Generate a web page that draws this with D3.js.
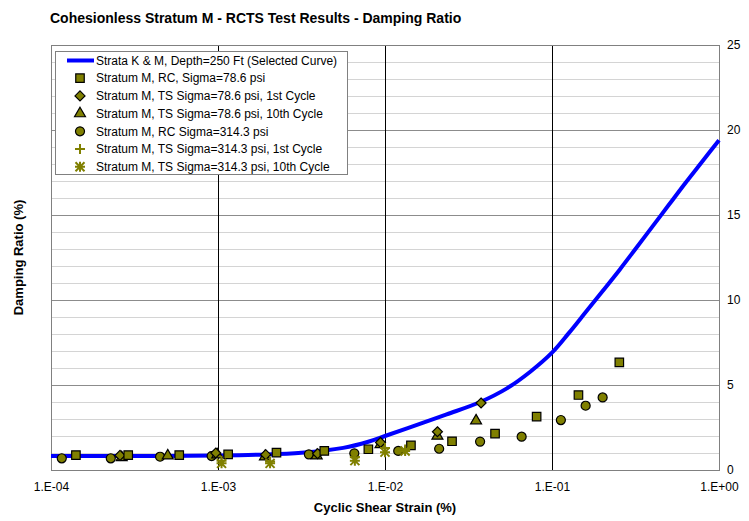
<!DOCTYPE html>
<html><head><meta charset="utf-8">
<script src="https://cdn.jsdelivr.net/npm/d3@7"></script>
<style>body{margin:0;background:#fff}svg{font-family:"Liberation Sans",Arial,sans-serif;display:block}</style>
</head><body><svg id="c" width="749" height="521"></svg>
<script>
const titleText = "Cohesionless Stratum M - RCTS Test Results - Damping Ratio";
const xTicks = [1e-4, 1e-3, 1e-2, 1e-1, 1];
const xTickLabels = ["1.E-04", "1.E-03", "1.E-02", "1.E-01", "1.E+00"];
const yTicks = [0, 5, 10, 15, 20, 25];
const yMinor = [1,2,3,4,6,7,8,9,11,12,13,14,16,17,18,19,21,22,23,24];

const curveStrain = [1e-4, 3.16e-4, 1e-3, 1.78e-3, 3.16e-3, 5.62e-3, 7.94e-3, 1e-2, 1.48e-2, 2.34e-2, 3.72e-2, 5.37e-2, 7.41e-2, 0.1, 0.126, 0.158, 0.2, 0.255, 0.316, 0.398, 0.501, 0.631, 0.794, 1.0];
const curveDamping = [0.82, 0.82, 0.85, 0.9, 1.01, 1.3, 1.66, 2.0, 2.58, 3.27, 4.0, 4.8, 5.78, 6.9, 8.05, 9.25, 10.5, 11.8, 13.0, 14.3, 15.6, 16.9, 18.15, 19.4];

const rc78Strain = [1.41e-4, 2.9e-4, 5.86e-4, 1.15e-3, 2.24e-3, 4.33e-3, 7.95e-3, 1.43e-2, 2.52e-2, 4.56e-2, 8.09e-2, 0.144, 0.253];
const rc78Damping = [0.88, 0.88, 0.88, 0.92, 1.02, 1.12, 1.22, 1.45, 1.69, 2.14, 3.14, 4.41, 6.33];

const ts78c1Strain = [2.59e-4, 9.7e-4, 1.93e-3, 3.95e-3, 9.4e-3, 2.06e-2, 3.76e-2];
const ts78c1Damping = [0.86, 1.0, 0.9, 0.96, 1.62, 2.25, 3.94];

const ts78c10Strain = [2.65e-4, 5.0e-4, 9.9e-4, 1.91e-3, 3.9e-3, 9.4e-3, 2.06e-2, 3.51e-2];
const ts78c10Damping = [0.74, 0.84, 0.9, 0.78, 0.84, 1.5, 2.0, 2.9];

const rc314Strain = [1.16e-4, 2.28e-4, 4.5e-4, 9.16e-4, 3.5e-3, 6.55e-3, 1.2e-2, 2.11e-2, 3.71e-2, 6.58e-2, 0.113, 0.159, 0.201];
const rc314Damping = [0.69, 0.69, 0.78, 0.82, 0.92, 0.98, 1.12, 1.25, 1.67, 1.96, 2.94, 3.78, 4.27];

const ts314c1Strain = [1.05e-3, 2.05e-3, 6.6e-3, 1.0e-2, 1.32e-2];
const ts314c1Damping = [0.55, 0.5, 0.75, 1.3, 1.2];

const ts314c10Strain = [1.05e-3, 2.05e-3, 6.6e-3, 1.0e-2, 1.32e-2];
const ts314c10Damping = [0.39, 0.39, 0.55, 1.05, 1.12];

const legendLabels = [
  "Strata K & M, Depth=250 Ft (Selected Curve)",
  "Stratum M, RC, Sigma=78.6 psi",
  "Stratum M, TS Sigma=78.6 psi, 1st Cycle",
  "Stratum M, TS Sigma=78.6 psi, 10th Cycle",
  "Stratum M, RC Sigma=314.3 psi",
  "Stratum M, TS Sigma=314.3 psi, 1st Cycle",
  "Stratum M, TS Sigma=314.3 psi, 10th Cycle"
];

const svg = d3.select("#c");
const L = 51, R = 719, T = 45, B = 470;
const x = d3.scaleLog().domain([1e-4, 1]).range([L, R]);
const y = d3.scaleLinear().domain([0, 25]).range([B, T]);
const olive = "#808000";

svg.append("rect").attr("width", 749).attr("height", 521).attr("fill", "#fff");

// minor horizontal grid
svg.append("g").selectAll("line").data(yMinor).join("line")
  .attr("x1", L).attr("x2", R).attr("y1", d => y(d) + 0.5).attr("y2", d => y(d) + 0.5)
  .attr("stroke", "#d4d4d4").attr("stroke-width", 1);
// major horizontal grid
svg.append("g").selectAll("line").data(yTicks.slice(1, 5)).join("line")
  .attr("x1", L).attr("x2", R).attr("y1", d => y(d) + 0.5).attr("y2", d => y(d) + 0.5)
  .attr("stroke", "#8c8c8c").attr("stroke-width", 1);
// vertical decade lines
svg.append("g").selectAll("line").data(xTicks.slice(1, 4)).join("line")
  .attr("x1", d => Math.round(x(d)) + 0.5).attr("x2", d => Math.round(x(d)) + 0.5)
  .attr("y1", T).attr("y2", B)
  .attr("stroke", "#000").attr("stroke-width", 1);
// frame
svg.append("rect").attr("x", L + 0.5).attr("y", T + 0.5).attr("width", R - L).attr("height", B - T)
  .attr("fill", "none").attr("stroke", "#808080").attr("stroke-width", 1);

// axes labels via d3 axes
const xAxis = d3.axisBottom(x).tickValues(xTicks).tickFormat((d, i) => xTickLabels[i]).tickSize(0).tickPadding(12);
const gx = svg.append("g").attr("transform", `translate(0,${B})`).call(xAxis);
gx.select(".domain").remove();
gx.selectAll("text").attr("font-size", 12).attr("font-family", "Liberation Sans, Arial, sans-serif").attr("fill", "#000");

const yAxis = d3.axisRight(y).tickValues(yTicks).tickSize(0).tickPadding(8);
const gy = svg.append("g").attr("transform", `translate(${R},0)`).call(yAxis);
gy.select(".domain").remove();
gy.selectAll("text").attr("font-size", 12).attr("font-family", "Liberation Sans, Arial, sans-serif").attr("fill", "#000");

// curve
const line = d3.line().x((d, i) => x(curveStrain[i])).y(d => y(d)).curve(d3.curveCatmullRom.alpha(0.5));
svg.append("path").datum(curveDamping).attr("d", line)
  .attr("fill", "none").attr("stroke", "#0000ff").attr("stroke-width", 4);

// markers
function pts(strain, damp) { return strain.map((s, i) => [s, damp[i]]); }
const sq = d3.symbol().type(d3.symbolSquare).size(72);
const dia = "M0,-5L5,0L0,5L-5,0Z";
const tri = d3.symbol().type(d3.symbolTriangle).size(52);
const cir = d3.symbol().type(d3.symbolCircle).size(64);
const plus = "M-5,0H5M0,-5V5";
const star = "M-4.5,-4.5L4.5,4.5M-4.5,4.5L4.5,-4.5M0,-5V5M-5,0H5";

function drawFilled(data, gen) {
  svg.append("g").selectAll("path").data(data).join("path")
    .attr("transform", d => `translate(${x(d[0])},${y(d[1])})`)
    .attr("d", gen).attr("fill", olive).attr("stroke", "#000").attr("stroke-width", 1.2);
}
function drawStroke(data, p) {
  svg.append("g").selectAll("path").data(data).join("path")
    .attr("transform", d => `translate(${x(d[0])},${y(d[1])})`)
    .attr("d", p).attr("fill", "none").attr("stroke", olive).attr("stroke-width", 2);
}
drawFilled(pts(rc314Strain, rc314Damping), cir);
drawFilled(pts(ts78c10Strain, ts78c10Damping), tri);
drawFilled(pts(ts78c1Strain, ts78c1Damping), dia);
drawFilled(pts(rc78Strain, rc78Damping), sq);
drawStroke(pts(ts314c1Strain, ts314c1Damping), plus);
drawStroke(pts(ts314c10Strain, ts314c10Damping), star);

// legend
const lg = svg.append("g");
lg.append("rect").attr("x", 55.5).attr("y", 51.5).attr("width", 292).attr("height", 123)
  .attr("fill", "#fff").attr("stroke", "#808080").attr("stroke-width", 1);
const rowY = legendLabels.map((d, i) => 60.5 + i * 17.7);
lg.selectAll("text").data(legendLabels).join("text")
  .attr("x", 96).attr("y", (d, i) => rowY[i]).attr("dy", "0.35em")
  .attr("font-size", 12).attr("fill", "#000").text(d => d);
lg.append("line").attr("x1", 67).attr("x2", 94).attr("y1", rowY[0]).attr("y2", rowY[0])
  .attr("stroke", "#0000ff").attr("stroke-width", 4);
const legSyms = [sq, dia, tri, cir];
legSyms.forEach((g, i) => {
  lg.append("path").attr("transform", `translate(80,${rowY[i + 1]})`).attr("d", g)
    .attr("fill", olive).attr("stroke", "#000").attr("stroke-width", 1.2);
});
lg.append("path").attr("transform", `translate(80,${rowY[5]})`).attr("d", plus)
  .attr("fill", "none").attr("stroke", olive).attr("stroke-width", 2);
lg.append("path").attr("transform", `translate(80,${rowY[6]})`).attr("d", star)
  .attr("fill", "none").attr("stroke", olive).attr("stroke-width", 2);

// titles
svg.append("text").attr("x", 50).attr("y", 23).attr("font-size", 14).attr("font-weight", "bold")
  .attr("fill", "#000").text(titleText);
svg.append("text").attr("x", (L + R) / 2).attr("y", 512).attr("text-anchor", "middle")
  .attr("font-size", 13).attr("font-weight", "bold").attr("fill", "#000").text("Cyclic Shear Strain (%)");
svg.append("text").attr("transform", `translate(23,${(T + B) / 2}) rotate(-90)`).attr("text-anchor", "middle")
  .attr("font-size", 13).attr("font-weight", "bold").attr("fill", "#000").text("Damping Ratio (%)");
</script></body></html>
